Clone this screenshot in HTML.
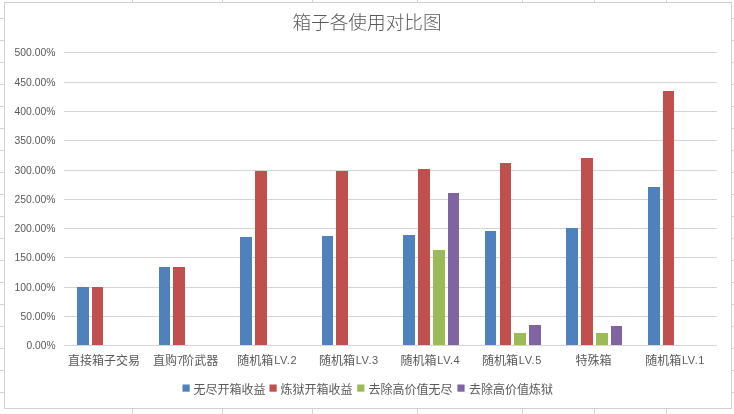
<!DOCTYPE html>
<html lang="zh-CN"><head><meta charset="utf-8"><title>箱子各使用对比图</title>
<style>
html,body{margin:0;padding:0;background:#fff;}
body{width:734px;height:414px;overflow:hidden;position:relative;font-family:"Liberation Sans","Noto Sans CJK SC",sans-serif;}
svg{display:block;position:absolute;left:0;top:0}
text{font-family:"Liberation Sans","Noto Sans CJK SC",sans-serif;fill:#595959}
.ax{font-size:12px}
.yl{font-size:11px}
.l7{font-size:11px;letter-spacing:-.8px}
.la{font-size:11px;letter-spacing:.55px}
.t{font-size:18.67px;font-weight:300}
</style></head><body>
<svg width="734" height="414" viewBox="0 0 734 414">
<rect width="734" height="414" fill="#fff"/>

<g stroke="#d4d4d4" stroke-width="1" shape-rendering="crispEdges">
<line x1="0" x2="734" y1="18.5" y2="18.5"/>
<line x1="0" x2="734" y1="40.5" y2="40.5"/>
<line x1="0" x2="734" y1="62.5" y2="62.5"/>
<line x1="0" x2="734" y1="84.5" y2="84.5"/>
<line x1="0" x2="734" y1="106.5" y2="106.5"/>
<line x1="0" x2="734" y1="128.5" y2="128.5"/>
<line x1="0" x2="734" y1="150.5" y2="150.5"/>
<line x1="0" x2="734" y1="172.5" y2="172.5"/>
<line x1="0" x2="734" y1="194.5" y2="194.5"/>
<line x1="0" x2="734" y1="216.5" y2="216.5"/>
<line x1="0" x2="734" y1="238.5" y2="238.5"/>
<line x1="0" x2="734" y1="260.5" y2="260.5"/>
<line x1="0" x2="734" y1="282.5" y2="282.5"/>
<line x1="0" x2="734" y1="304.5" y2="304.5"/>
<line x1="0" x2="734" y1="326.5" y2="326.5"/>
<line x1="0" x2="734" y1="348.5" y2="348.5"/>
<line x1="0" x2="734" y1="370.5" y2="370.5"/>
<line x1="0" x2="734" y1="392.5" y2="392.5"/>
<line x1="0" x2="734" y1="414.5" y2="414.5"/>
<line x1="132.5" x2="132.5" y1="0" y2="414"/>
<line x1="222.5" x2="222.5" y1="0" y2="414"/>
<line x1="312.5" x2="312.5" y1="0" y2="414"/>
<line x1="417.5" x2="417.5" y1="0" y2="414"/>
<line x1="522.5" x2="522.5" y1="0" y2="414"/>
<line x1="594.5" x2="594.5" y1="0" y2="414"/>
<line x1="666.5" x2="666.5" y1="0" y2="414"/>
</g>
<rect x="4.5" y="2.5" width="727" height="406" fill="#fff" stroke="#d0d0d0" stroke-width="1" shape-rendering="crispEdges"/>
<g stroke="#d4d4d4" stroke-width="1" shape-rendering="crispEdges">
<line x1="64.0" x2="717.4" y1="345.5" y2="345.5"/>
<line x1="64.0" x2="717.4" y1="316.5" y2="316.5"/>
<line x1="64.0" x2="717.4" y1="287.5" y2="287.5"/>
<line x1="64.0" x2="717.4" y1="257.5" y2="257.5"/>
<line x1="64.0" x2="717.4" y1="228.5" y2="228.5"/>
<line x1="64.0" x2="717.4" y1="199.5" y2="199.5"/>
<line x1="64.0" x2="717.4" y1="170.5" y2="170.5"/>
<line x1="64.0" x2="717.4" y1="140.5" y2="140.5"/>
<line x1="64.0" x2="717.4" y1="111.5" y2="111.5"/>
<line x1="64.0" x2="717.4" y1="82.5" y2="82.5"/>
<line x1="64.0" x2="717.4" y1="52.5" y2="52.5"/>
</g>
<g class="yl" text-anchor="end">
<text x="55.5" y="349.20" textLength="29" lengthAdjust="spacingAndGlyphs">0.00%</text>
<text x="55.5" y="320.20" textLength="35" lengthAdjust="spacingAndGlyphs">50.00%</text>
<text x="55.5" y="291.20" textLength="41" lengthAdjust="spacingAndGlyphs">100.00%</text>
<text x="55.5" y="261.20" textLength="41" lengthAdjust="spacingAndGlyphs">150.00%</text>
<text x="55.5" y="232.20" textLength="41" lengthAdjust="spacingAndGlyphs">200.00%</text>
<text x="55.5" y="203.20" textLength="41" lengthAdjust="spacingAndGlyphs">250.00%</text>
<text x="55.5" y="174.20" textLength="41" lengthAdjust="spacingAndGlyphs">300.00%</text>
<text x="55.5" y="144.20" textLength="41" lengthAdjust="spacingAndGlyphs">350.00%</text>
<text x="55.5" y="115.20" textLength="41" lengthAdjust="spacingAndGlyphs">400.00%</text>
<text x="55.5" y="86.20" textLength="41" lengthAdjust="spacingAndGlyphs">450.00%</text>
<text x="55.5" y="56.20" textLength="41" lengthAdjust="spacingAndGlyphs">500.00%</text>
</g>
<rect x="77" y="287" width="12" height="58" fill="#4f81bd" shape-rendering="crispEdges"/>
<rect x="92" y="287" width="11" height="58" fill="#c0504d" shape-rendering="crispEdges"/>
<rect x="159" y="267" width="11" height="78" fill="#4f81bd" shape-rendering="crispEdges"/>
<rect x="173" y="267" width="12" height="78" fill="#c0504d" shape-rendering="crispEdges"/>
<rect x="240" y="237" width="12" height="108" fill="#4f81bd" shape-rendering="crispEdges"/>
<rect x="255" y="171" width="12" height="174" fill="#c0504d" shape-rendering="crispEdges"/>
<rect x="322" y="236" width="11" height="109" fill="#4f81bd" shape-rendering="crispEdges"/>
<rect x="336" y="171" width="12" height="174" fill="#c0504d" shape-rendering="crispEdges"/>
<rect x="403" y="235" width="12" height="110" fill="#4f81bd" shape-rendering="crispEdges"/>
<rect x="418" y="169" width="12" height="176" fill="#c0504d" shape-rendering="crispEdges"/>
<rect x="433" y="250" width="12" height="95" fill="#9bbb59" shape-rendering="crispEdges"/>
<rect x="448" y="193" width="11" height="152" fill="#8064a2" shape-rendering="crispEdges"/>
<rect x="485" y="231" width="11" height="114" fill="#4f81bd" shape-rendering="crispEdges"/>
<rect x="500" y="163" width="11" height="182" fill="#c0504d" shape-rendering="crispEdges"/>
<rect x="514" y="333" width="12" height="12" fill="#9bbb59" shape-rendering="crispEdges"/>
<rect x="529" y="325" width="12" height="20" fill="#8064a2" shape-rendering="crispEdges"/>
<rect x="566" y="228" width="12" height="117" fill="#4f81bd" shape-rendering="crispEdges"/>
<rect x="581" y="158" width="12" height="187" fill="#c0504d" shape-rendering="crispEdges"/>
<rect x="596" y="333" width="12" height="12" fill="#9bbb59" shape-rendering="crispEdges"/>
<rect x="611" y="326" width="11" height="19" fill="#8064a2" shape-rendering="crispEdges"/>
<rect x="648" y="187" width="12" height="158" fill="#4f81bd" shape-rendering="crispEdges"/>
<rect x="663" y="91" width="11" height="254" fill="#c0504d" shape-rendering="crispEdges"/>
<g class="ax" text-anchor="middle">
<text x="104.09" y="364.5">直接箱子交易</text>
<text x="185.66" y="364.5">直购<tspan class="l7" dy="-0.4">7</tspan><tspan dy="0.4">阶武器</tspan></text>
<text x="267.24" y="364.5">随机箱<tspan class="la" dx="0.8" dy="-0.6">LV.2</tspan></text>
<text x="348.81" y="364.5">随机箱<tspan class="la" dx="0.8" dy="-0.6">LV.3</tspan></text>
<text x="430.39" y="364.5">随机箱<tspan class="la" dx="0.8" dy="-0.6">LV.4</tspan></text>
<text x="511.96" y="364.5">随机箱<tspan class="la" dx="0.8" dy="-0.6">LV.5</tspan></text>
<text x="593.54" y="364.5">特殊箱</text>
<text x="675.11" y="364.5">随机箱<tspan class="la" dx="0.8" dy="-0.6">LV.1</tspan></text>
</g>
<text class="t" x="367" y="29" text-anchor="middle">箱子各使用对比图</text>
<g class="ax">
<rect x="182.5" y="384.5" width="7.2" height="7.2" fill="#4f81bd"/>
<text x="193.5" y="394.2">无尽开箱收益</text>
<rect x="269.5" y="384.5" width="7.2" height="7.2" fill="#c0504d"/>
<text x="280.5" y="394.2">炼狱开箱收益</text>
<rect x="357.2" y="384.5" width="7.2" height="7.2" fill="#9bbb59"/>
<text x="368.5" y="394.2">去除高价值无尽</text>
<rect x="457.4" y="384.5" width="7.2" height="7.2" fill="#8064a2"/>
<text x="469" y="394.2">去除高价值炼狱</text>
</g>
</svg></body></html>
